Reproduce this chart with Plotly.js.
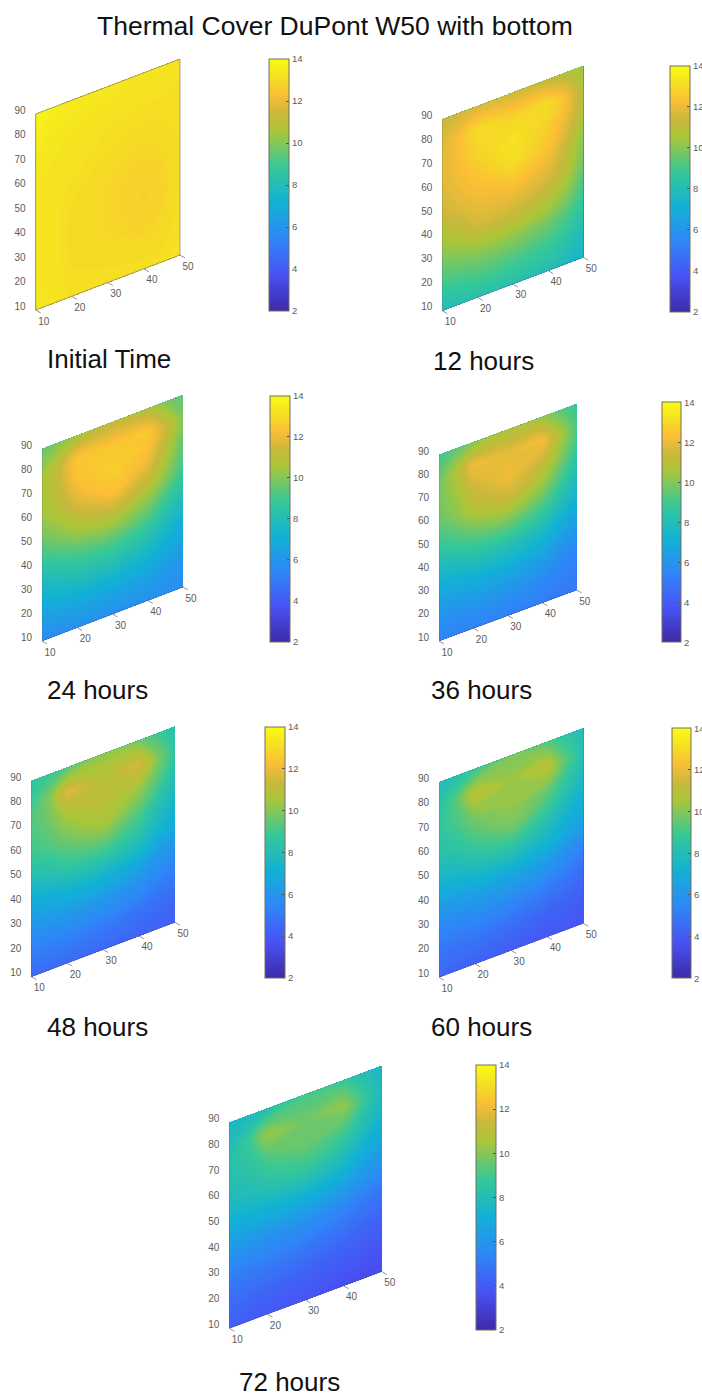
<!DOCTYPE html>
<html><head><meta charset="utf-8">
<script src="https://cdn.plot.ly/plotly-3.0.1.min.js"></script>
<style>html,body{margin:0;padding:0;background:#fff}#chart{width:702px;height:1398px}</style>
</head><body><div id="chart"></div>
<script>
// Grid positions of the values (rows are written top row first, z = 90 down to z = 10)
const xGrid = [10, 15, 20, 30, 40, 45, 50];
const zGrid = [90, 80, 70, 60, 50, 40, 30, 20, 10];
const xTicks = [10, 20, 30, 40, 50];
const zTicks = [10, 20, 30, 40, 50, 60, 70, 80, 90];
const barTicks = [2, 4, 6, 8, 10, 12, 14];

const initialTime = [
 [13.8,13.6,13.5,13.4,13.3,13.3,13.2],
 [13.6,13.4,13.3,13.2,13.15,13.15,13.1],
 [13.4,13.3,13.2,13.1,13.05,13.05,13.05],
 [13.3,13.2,13.15,13.0,12.9,13.0,13.05],
 [13.3,13.2,13.05,12.9,12.75,12.85,13.05],
 [13.3,13.2,13.0,12.9,12.7,12.8,13.05],
 [13.3,13.2,13.0,12.9,12.75,12.9,13.1],
 [13.3,13.2,13.05,13.0,12.95,13.0,13.1],
 [13.3,13.3,13.1,13.1,13.1,13.1,13.2]];
const hours12 = [
 [11.3,11.5,11.6,11.5,11.2,10.9,10.4],
 [11.7,12.3,13.0,12.8,13.0,12.3,10.8],
 [11.8,12.3,12.8,13.2,12.7,12.0,10.7],
 [11.7,12.1,12.4,13.0,12.3,11.4,10.1],
 [11.4,11.7,12.0,12.2,11.7,11.0,9.7],
 [10.6,11.0,11.5,11.4,10.9,10.2,9.1],
 [9.8,10.0,10.2,10.2,9.7,9.2,8.5],
 [8.9,9.0,9.2,9.1,8.8,8.4,7.9],
 [8.0,8.1,8.2,8.2,8.0,7.7,7.4]];
const hours24 = [
 [9.6,10.0,10.6,11.2,10.7,10.0,9.4],
 [10.3,11.3,12.5,12.5,12.6,11.4,9.9],
 [10.5,11.2,12.3,12.7,12.2,10.9,9.5],
 [10.3,10.8,11.5,12.3,11.2,10.2,9.0],
 [9.5,9.9,10.4,10.8,9.9,9.0,8.2],
 [8.4,8.7,9.0,9.2,8.6,7.9,7.3],
 [7.4,7.6,7.9,7.9,7.5,7.0,6.6],
 [6.5,6.6,6.7,6.7,6.5,6.2,6.0],
 [5.6,5.7,5.8,5.8,5.8,5.8,5.8]];
const hours36 = [
 [9.0,9.5,10.0,10.7,10.2,9.5,8.8],
 [9.6,10.7,12.1,11.9,12.2,10.7,9.2],
 [9.8,10.4,11.4,12.1,11.3,10.1,8.7],
 [9.5,10.0,10.7,11.3,10.2,9.1,8.0],
 [8.7,9.0,9.4,9.7,8.9,8.0,7.3],
 [7.6,7.8,8.1,8.1,7.6,6.9,6.4],
 [6.7,6.8,6.9,6.9,6.5,6.0,5.6],
 [5.9,5.9,6.0,5.9,5.6,5.3,5.2],
 [5.3,5.3,5.3,5.2,5.1,5.0,5.0]];
const hours48 = [
 [8.6,8.9,9.3,10.2,9.7,9.0,8.3],
 [9.0,9.9,11.8,10.9,11.6,10.0,8.6],
 [9.2,9.7,10.5,11.0,10.3,9.3,8.1],
 [8.9,9.2,9.7,10.4,9.2,8.2,7.5],
 [8.0,8.3,8.7,8.9,8.2,7.4,6.9],
 [6.9,7.1,7.3,7.3,6.8,6.2,5.9],
 [6.0,6.1,6.2,6.1,5.7,5.3,5.1],
 [5.2,5.2,5.2,5.1,4.8,4.6,4.5],
 [4.5,4.5,4.5,4.4,4.3,4.2,4.1]];
const hours60 = [
 [8.0,8.3,8.8,9.9,9.3,8.6,8.0],
 [8.4,9.4,11.0,10.3,11.0,9.4,8.1],
 [8.6,9.1,9.8,10.3,9.6,8.6,7.7],
 [8.3,8.5,9.0,9.7,8.5,7.6,7.0],
 [7.4,7.6,7.9,8.1,7.4,6.8,6.3],
 [6.4,6.5,6.6,6.6,6.2,5.7,5.2],
 [5.5,5.5,5.6,5.5,5.1,4.8,4.5],
 [4.9,4.8,4.8,4.6,4.3,4.2,4.0],
 [4.4,4.3,4.2,4.1,3.9,3.9,3.8]];
const hours72 = [
 [7.6,7.8,8.2,9.1,8.8,8.1,7.5],
 [8.0,8.8,10.3,9.7,10.2,8.9,7.8],
 [8.2,8.5,9.1,9.6,9.0,8.1,7.3],
 [7.8,8.0,8.3,8.6,7.9,7.1,6.6],
 [7.0,7.1,7.1,7.1,6.6,6.1,5.7],
 [6.1,6.0,5.9,5.8,5.4,5.0,4.8],
 [5.2,5.1,5.1,4.9,4.6,4.4,4.2],
 [4.6,4.5,4.4,4.2,4.0,3.9,3.8],
 [4.2,4.0,3.9,3.8,3.6,3.5,3.5]];

const pageTitle = 'Thermal Cover DuPont W50 with bottom';

// Page layout of each panel, in pixels: surface corners, colorbar box, caption
const panels = [
 {label:'Initial Time', z:initialTime, L:35.7, R:180,   B:310,   T:114,   dy:55,   bar:[269,289,59,311],     cap:[47,359]},
 {label:'12 hours',     z:hours12,     L:442.3,R:583.3, B:310.7, T:119.3, dy:53.4, bar:[670,690,66,311.7],   cap:[432.7,361]},
 {label:'24 hours',     z:hours24,     L:42,   R:183,   B:641,   T:449,   dy:54,   bar:[270,290,396,641.7],  cap:[47,690]},
 {label:'36 hours',     z:hours36,     L:439,  R:576.7, B:641,   T:455,   dy:51,   bar:[661.7,681,402.7,642.3],cap:[431,690]},
 {label:'48 hours',     z:hours48,     L:31.3, R:175,   B:976.7, T:781,   dy:54.4, bar:[265,285,727,978],    cap:[47,1027]},
 {label:'60 hours',     z:hours60,     L:439,  R:583.3, B:977.3, T:782.3, dy:54,   bar:[671.7,691,728,978.3],cap:[431,1027]},
 {label:'72 hours',     z:hours72,     L:229.3,R:381.7, B:1328.3,T:1122.7,dy:56.7, bar:[475.7,496,1065,1330],cap:[239,1382]}
];

const W = 702, H = 1398;
const parula = [[0,'#3e2aa8'],[1/7,'#4852f4'],[2/7,'#2e87f7'],[3/7,'#12b1d6'],[4/7,'#37c897'],[5/7,'#abc639'],[0.78,'#c9b83c'],[6/7,'#fbbe36'],[0.917,'#f5dc24'],[1,'#f9fb15']];
const tickGrey = '#5c5c5c';
const captionFont = {size:26,color:'#111',family:'"Liberation Sans", Arial, sans-serif'};

const traces = [], annotations = [];
const layout = {width:W, height:H, paper_bgcolor:'#fff', plot_bgcolor:'rgba(0,0,0,0)', showlegend:false,
  margin:{l:0,r:0,t:0,b:0,autoexpand:false}, font:{family:'"Liberation Sans", Arial, sans-serif', color:tickGrey},
  hovermode:false};

annotations.push({xref:'paper',yref:'paper',x:335/W,y:1-26/H,xanchor:'center',yanchor:'middle',showarrow:false,
  text:pageTitle,font:{size:26.5,color:'#111',family:captionFont.family}});

const padRight = 16, padBelow = 22;   // room for the x labels, in pixels

panels.forEach((p,i) => {
  const n = i+1, xa = 'x'+(n===1?'':n), ya = 'y'+(n===1?'':n);
  const pxH = p.B - p.T, pxW = p.R - p.L;
  const unitsY = 80/pxH, unitsX = 40/pxW;       // data units per pixel
  const rise = p.dy*unitsY;                     // how far z = const climbs between x = 10 and x = 50
  const sy = (x,z) => z + (x-10)/40*rise;
  const zAsc = zGrid.slice().reverse();
  const rows = p.z.slice().reverse();

  layout['xaxis'+(n===1?'':n)] = {domain:[p.L/W,(p.R+padRight)/W],range:[10,50+padRight*unitsX],visible:false,anchor:ya,fixedrange:true};
  layout['yaxis'+(n===1?'':n)] = {domain:[1-(p.B+padBelow)/H,1-(p.T-p.dy)/H],range:[10-padBelow*unitsY,90+rise],anchor:xa,fixedrange:true,
    tickmode:'array',tickvals:zTicks,ticktext:zTicks.map(String),ticks:'outside',ticklen:7,tickcolor:'rgba(0,0,0,0)',
    ticklabelshift:-4,tickfont:{size:10,color:tickGrey},showgrid:false,zeroline:false,showline:false};

  const cid = 'carpet'+n;
  traces.push({type:'carpet',carpet:cid,xaxis:xa,yaxis:ya,a:xGrid,b:zAsc,
    x:zAsc.map(()=>xGrid.slice()),
    y:zAsc.map(z=>xGrid.map(x=>sy(x,z))),
    aaxis:{showgrid:false,showticklabels:'none',showline:false,startline:false,endline:false,minorgridcount:0,smoothing:0,tickmode:'array',tickvals:[]},
    baxis:{showgrid:false,showticklabels:'none',showline:false,startline:false,endline:false,minorgridcount:0,smoothing:0,tickmode:'array',tickvals:[]}
  });
  traces.push({type:'contourcarpet',carpet:cid,xaxis:xa,yaxis:ya,a:xGrid,b:zAsc,z:rows,
    autocontour:false,contours:{start:2,end:14,size:0.08,coloring:'fill',showlines:false},line:{width:0},
    colorscale:parula,zmin:2,zmax:14,autocolorscale:false,
    colorbar:{x:p.bar[0]/W,xanchor:'left',xpad:0,y:1-p.bar[3]/H,yanchor:'bottom',ypad:0,
      len:p.bar[3]-p.bar[2],lenmode:'pixels',thickness:p.bar[1]-p.bar[0],thicknessmode:'pixels',
      outlinewidth:1,outlinecolor:'#707060',borderwidth:0,
      tickmode:'array',tickvals:barTicks,ticktext:barTicks.map(String),ticks:'inside',ticklen:3,tickcolor:'#555',tickwidth:1,
      tickfont:{size:9.5,color:tickGrey}}
  });

  // Surface edges, slanted ticks and x labels, all placed through this panel's axes
  const edgeX = i===0 ? [10,10,50,50,10] : [10,10,50];
  const edgeY = i===0 ? [90,10,rise+10,rise+90,90] : [90,10,rise+10];
  traces.push({type:'scatter',mode:'lines',xaxis:xa,yaxis:ya,x:edgeX,y:edgeY,cliponaxis:false,hoverinfo:'skip',
    line:{color:i===0?'rgba(130,120,70,.6)':'rgba(90,90,90,.3)',width:1}});
  const tx=[],ty=[];
  xTicks.forEach(x=>{tx.push(x,x+5*unitsX,null);ty.push(sy(x,10),sy(x,10)-3*unitsY,null);});
  zTicks.forEach(z=>{tx.push(10,10-5*unitsX,null);ty.push(z,z+3*unitsY,null);});
  traces.push({type:'scatter',mode:'lines',xaxis:xa,yaxis:ya,x:tx,y:ty,cliponaxis:false,hoverinfo:'skip',
    line:{color:'#777',width:0.8}});
  traces.push({type:'scatter',mode:'text',xaxis:xa,yaxis:ya,cliponaxis:false,hoverinfo:'skip',
    x:xTicks.map(x=>x+8*unitsX),y:xTicks.map(x=>sy(x,10)-12*unitsY),
    text:xTicks.map(String),textposition:'middle center',textfont:{size:10,color:tickGrey}});

  annotations.push({xref:'paper',yref:'paper',x:p.cap[0]/W,y:1-p.cap[1]/H,xanchor:'left',yanchor:'middle',showarrow:false,
    text:p.label,xshift:-2,font:captionFont});
});
layout.annotations = annotations;
Plotly.newPlot('chart',traces,layout,{displayModeBar:false,staticPlot:true});
</script></body></html>
